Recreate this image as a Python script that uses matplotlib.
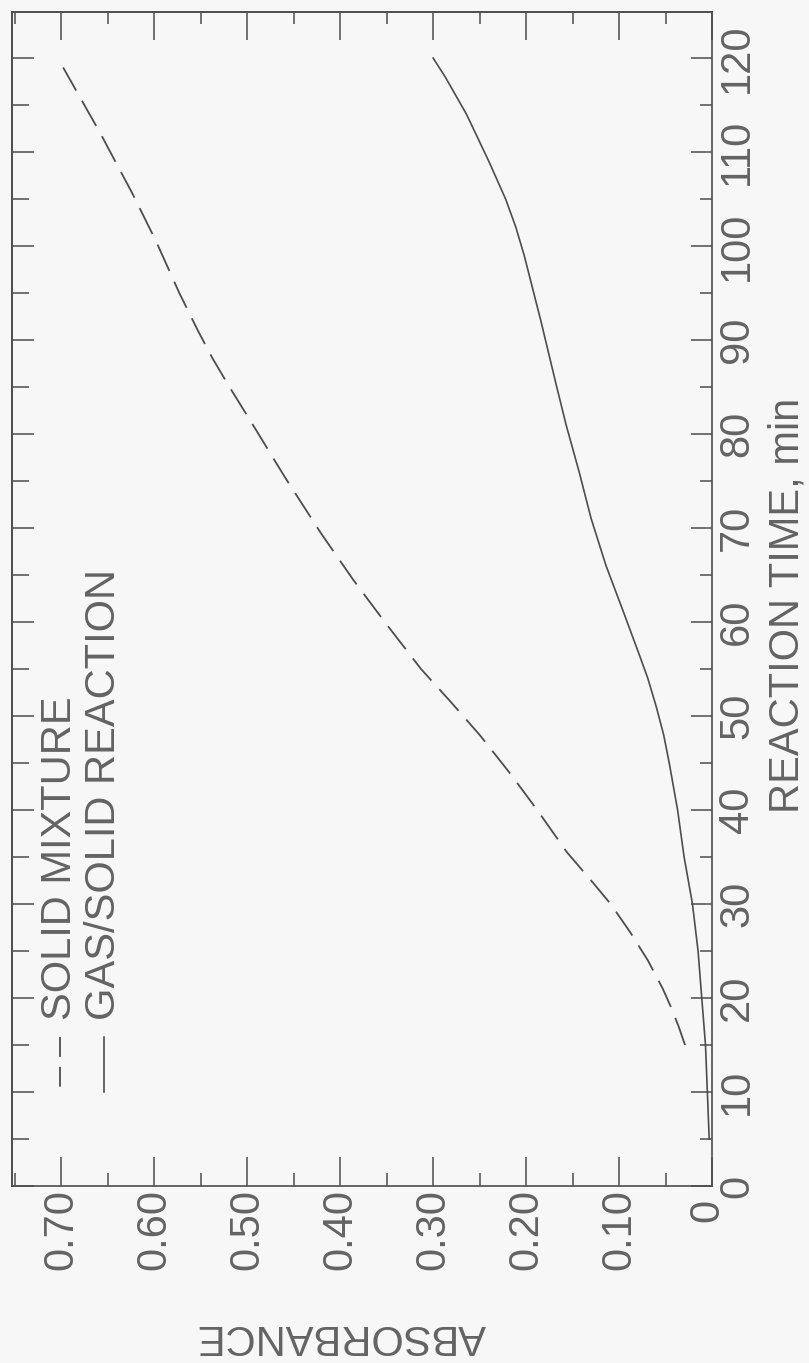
import matplotlib
matplotlib.use('Agg')
import matplotlib.pyplot as plt
import matplotlib.transforms as mtransforms
from matplotlib.ticker import FixedLocator, FixedFormatter, MultipleLocator

# ---------------- data ----------------
time_ticks = [0, 10, 20, 30, 40, 50, 60, 70, 80, 90, 100, 110, 120]
time_labels = ['0', '10', '20', '30', '40', '50', '60', '70', '80', '90', '100', '110', '120']
abs_ticks = [0.0, 0.1, 0.2, 0.3, 0.4, 0.5, 0.6, 0.7]
abs_labels = ['0', '0.10', '0.20', '0.30', '0.40', '0.50', '0.60', '0.70']

solid_mixture_time = [15, 17, 19, 21, 24, 27, 30, 32.5, 35.5, 40, 44, 48, 51.5, 55, 60, 64.5,
                      69.5, 75.5, 81, 85, 88, 91, 95, 100.5, 105.5, 112, 119]
solid_mixture_abs = [0.029, 0.036, 0.044, 0.053, 0.069, 0.088, 0.109, 0.130, 0.156, 0.188,
                     0.218, 0.250, 0.281, 0.313, 0.352, 0.386, 0.421, 0.460, 0.494, 0.519,
                     0.537, 0.553, 0.573, 0.598, 0.623, 0.658, 0.698]

gas_solid_time = [5, 10, 15, 20, 25, 30, 35, 40, 45, 48, 51, 54, 57, 61, 66, 71, 76, 81, 85,
                  92, 99, 102, 105, 109, 114, 118, 120]
gas_solid_abs = [0.003, 0.005, 0.007, 0.011, 0.015, 0.021, 0.030, 0.037, 0.046, 0.052, 0.060,
                 0.069, 0.080, 0.095, 0.114, 0.130, 0.143, 0.157, 0.167, 0.184, 0.202, 0.211,
                 0.222, 0.240, 0.264, 0.287, 0.300]

series_labels = ['SOLID MIXTURE', 'GAS/SOLID REACTION']
time_axis_label = 'REACTION TIME, min'
abs_axis_label = 'ABSORBANCE'

# ---------------- style ----------------
bg = '#f7f7f7'
ink = '#4d4d4d'
txt = '#636363'
FS = 30
plt.rcParams['font.family'] = ['Liberation Sans', 'DejaVu Sans']

W, H = 809, 1363
fig = plt.figure(figsize=(W / 100, H / 100), dpi=100, facecolor=bg)
L, R, T, B = 12, 712, 12, 1186
ax = fig.add_axes([L / W, (H - B) / H, (R - L) / W, (B - T) / H])
ax.set_facecolor(bg)

# chart is drawn rotated: absorbance runs right-to-left, time runs bottom-to-top
ax.plot(solid_mixture_abs, solid_mixture_time, color=ink, lw=1.3, dashes=(16, 6.5),
        dash_capstyle='butt')
ax.plot(gas_solid_abs, gas_solid_time, color=ink, lw=1.2)

ax.set_xlim(0.753, 0.0)
ax.set_ylim(0, 124.9)

for s in ax.spines.values():
    s.set_color(ink)
    s.set_linewidth(1.2)

# absorbance axis (bottom)
ax.xaxis.set_major_locator(FixedLocator(abs_ticks))
ax.xaxis.set_major_formatter(FixedFormatter(abs_labels))
ax.xaxis.set_minor_locator(MultipleLocator(0.05))
ax.tick_params(axis='x', which='major', direction='in', length=21, width=1.1, color=ink,
               bottom=True, top=False, labelbottom=True, labeltop=False,
               labelrotation=90, pad=2, labelsize=FS, labelcolor=txt)
ax.tick_params(axis='x', which='minor', direction='in', length=9.5, width=1.1, color=ink,
               bottom=True, top=False)

# time axis (right)
ax.yaxis.tick_right()
ax.yaxis.set_major_locator(FixedLocator(time_ticks))
ax.yaxis.set_major_formatter(FixedFormatter(time_labels))
ax.yaxis.set_minor_locator(MultipleLocator(5))
ax.tick_params(axis='y', which='major', direction='in', length=15, width=1.1, color=ink,
               left=False, right=True, labelleft=False, labelright=True,
               labelrotation=90, pad=3.6, labelsize=FS, labelcolor=txt)
ax.tick_params(axis='y', which='minor', direction='in', length=8.6, width=1.1, color=ink,
               left=False, right=True)
for lab in ax.yaxis.get_majorticklabels():
    lab.set_va('center')

# the lone "0" of the absorbance scale sits a little lower-left, clear of the time "0"
tick0 = ax.xaxis.get_major_ticks()[0]
tick0.label1.set_transform(tick0.label1.get_transform() +
                           mtransforms.ScaledTranslation(-0.05, -0.10, fig.dpi_scale_trans))

# top and left frame ticks
sec_top = ax.secondary_xaxis('top')
sec_top.xaxis.set_major_locator(MultipleLocator(0.1))
sec_top.xaxis.set_minor_locator(MultipleLocator(0.05))
sec_top.tick_params(axis='x', which='major', direction='in', length=20, width=1.1, color=ink,
                    labeltop=False, labelbottom=False)
sec_top.tick_params(axis='x', which='minor', direction='in', length=8.6, width=1.1, color=ink)
sec_top.spines['top'].set_color(ink)
sec_top.spines['top'].set_linewidth(1.2)

sec_left = ax.secondary_yaxis('left')
sec_left.yaxis.set_major_locator(MultipleLocator(10))
sec_left.yaxis.set_minor_locator(MultipleLocator(5))
sec_left.tick_params(axis='y', which='major', direction='in', length=16, width=1.1, color=ink,
                     labelleft=False, labelright=False)
sec_left.tick_params(axis='y', which='minor', direction='in', length=12, width=1.1, color=ink)
sec_left.spines['left'].set_color(ink)
sec_left.spines['left'].set_linewidth(1.2)

# axis labels
ax.set_ylabel(time_axis_label, fontsize=FS, color=txt, rotation=90)
ax.yaxis.set_label_position('right')
ax.yaxis.label.set_va('center')
ax.yaxis.set_label_coords((787 - L) / (R - L), (B - 605) / (B - T))

ax.set_xlabel(abs_axis_label, fontsize=FS, color=txt, rotation=180)
ax.xaxis.label.set_va('center')
ax.xaxis.label.set_ha('center')
ax.xaxis.set_label_coords((341 - L) / (R - L), (B - 1336) / (B - T))

# rotated legend
def ax_x(px):
    return (px - L) / (R - L)

def ax_y(py):
    return (B - py) / (B - T)

key_y = [ax_y(1037), ax_y(1092)]
legend_x = [ax_x(60), ax_x(104)]
ax.plot([legend_x[0]] * 2, key_y, transform=ax.transAxes, color=ink, lw=1.3,
        dashes=(11, 5.5), dash_capstyle='butt', clip_on=False)
ax.plot([legend_x[1]] * 2, key_y, transform=ax.transAxes, color=ink, lw=1.2, clip_on=False)
for xx, lab in zip(legend_x, series_labels):
    ax.text(xx, ax_y(1020), lab, transform=ax.transAxes, rotation=90,
            rotation_mode='anchor', ha='left', va='center', fontsize=FS, color=txt)

fig.savefig('out.png', dpi=100, facecolor=bg)
